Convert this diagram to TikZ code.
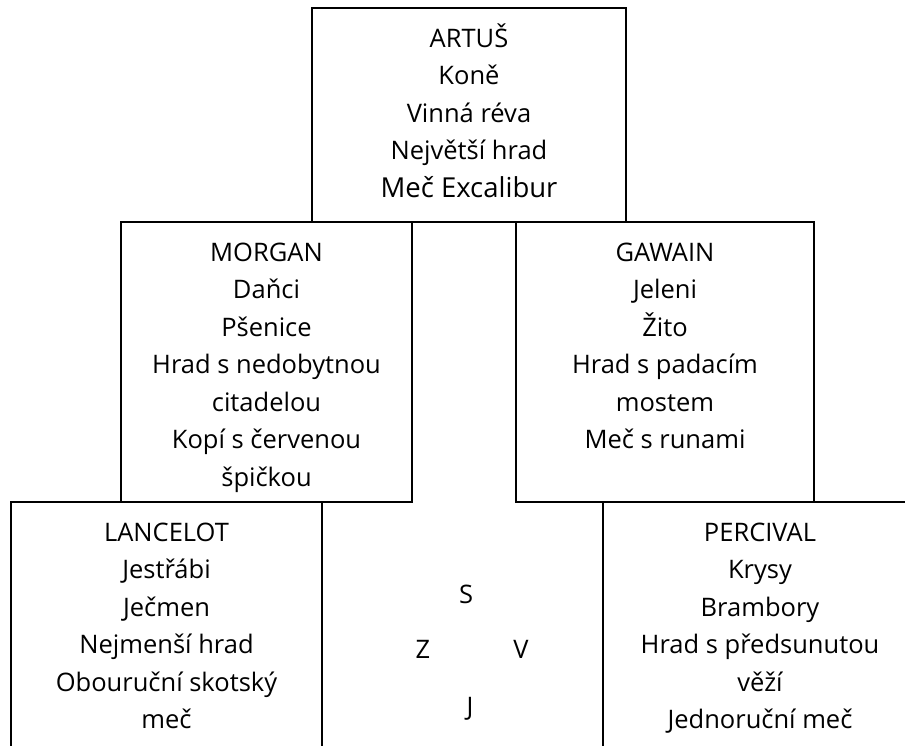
\documentclass[tikz,border=0pt]{standalone}
\usepackage{fontspec}
\setmainfont{Open Sans}
\usetikzlibrary{positioning,calc}

\begin{document}
\begin{tikzpicture}[
  x=1pt, y=-1pt,
  font=\fontsize{25.5}{37.5}\selectfont,
  field/.style={draw, line width=1.2pt, inner sep=0pt, outer sep=0pt, minimum height=280pt, anchor=north west},
  lines/.style={align=center, inner sep=0pt, anchor=north},
  dir/.style={anchor=base, inner sep=0pt}
]
  \useasboundingbox (0,0) rectangle (905,745);
  \clip (0,0) rectangle (905,745);

  % Top field
  \node[field, minimum width=314pt, minimum height=214pt] (artus) at (312,8) {};

  % Middle row
  \node[field, minimum width=291pt] (morgan) at ($(artus.south west)+(-191,0)$) {};
  \node[field, minimum width=298pt] (gawain) at ($(artus.south east)+(-110,0)$) {};

  % Bottom row (runs off the page)
  \node[field, minimum width=311pt, minimum height=300pt] (lancelot) at ($(morgan.south west)+(-110,0)$) {};
  \node[field, minimum width=314pt, minimum height=300pt] (percival) at ($(gawain.south west)+(87,0)$) {};

  % Texts
  \node[lines] (artus-txt) at ($(artus.north)+(0,13)$)
    {\strut ARTUŠ\\Koně\\Vinná réva\\Největší hrad\\{\fontsize{27.5}{37.5}\selectfont Meč Excalibur}};
  \node[lines] (morgan-txt) at ($(morgan.north)+(0,13)$)
    {\strut MORGAN\\Daňci\\Pšenice\\Hrad s nedobytnou\\citadelou\\Kopí s červenou\\špičkou};
  \node[lines] (gawain-txt) at ($(gawain.north)+(0,13)$)
    {\strut GAWAIN\\Jeleni\\Žito\\Hrad s padacím\\mostem\\Meč s runami};
  \node[lines] (lancelot-txt) at ($(lancelot.north)+(0,13)$)
    {\strut LANCELOT\\Jestřábi\\Ječmen\\Nejmenší hrad\\Obouruční skotský\\meč};
  \node[lines] (percival-txt) at ($(percival.north)+(0,13)$)
    {\strut PERCIVAL\\Krysy\\Brambory\\Hrad s předsunutou\\věží\\Jednoruční meč};

  % Compass
  \node[dir] (dir-s) at (466,603.5) {S};
  \node[dir] (dir-z) at (423,658.5) {Z};
  \node[dir] (dir-v) at (521,658.5) {V};
  \node[dir] (dir-j) at (470,715) {J};
\end{tikzpicture}
\end{document}
